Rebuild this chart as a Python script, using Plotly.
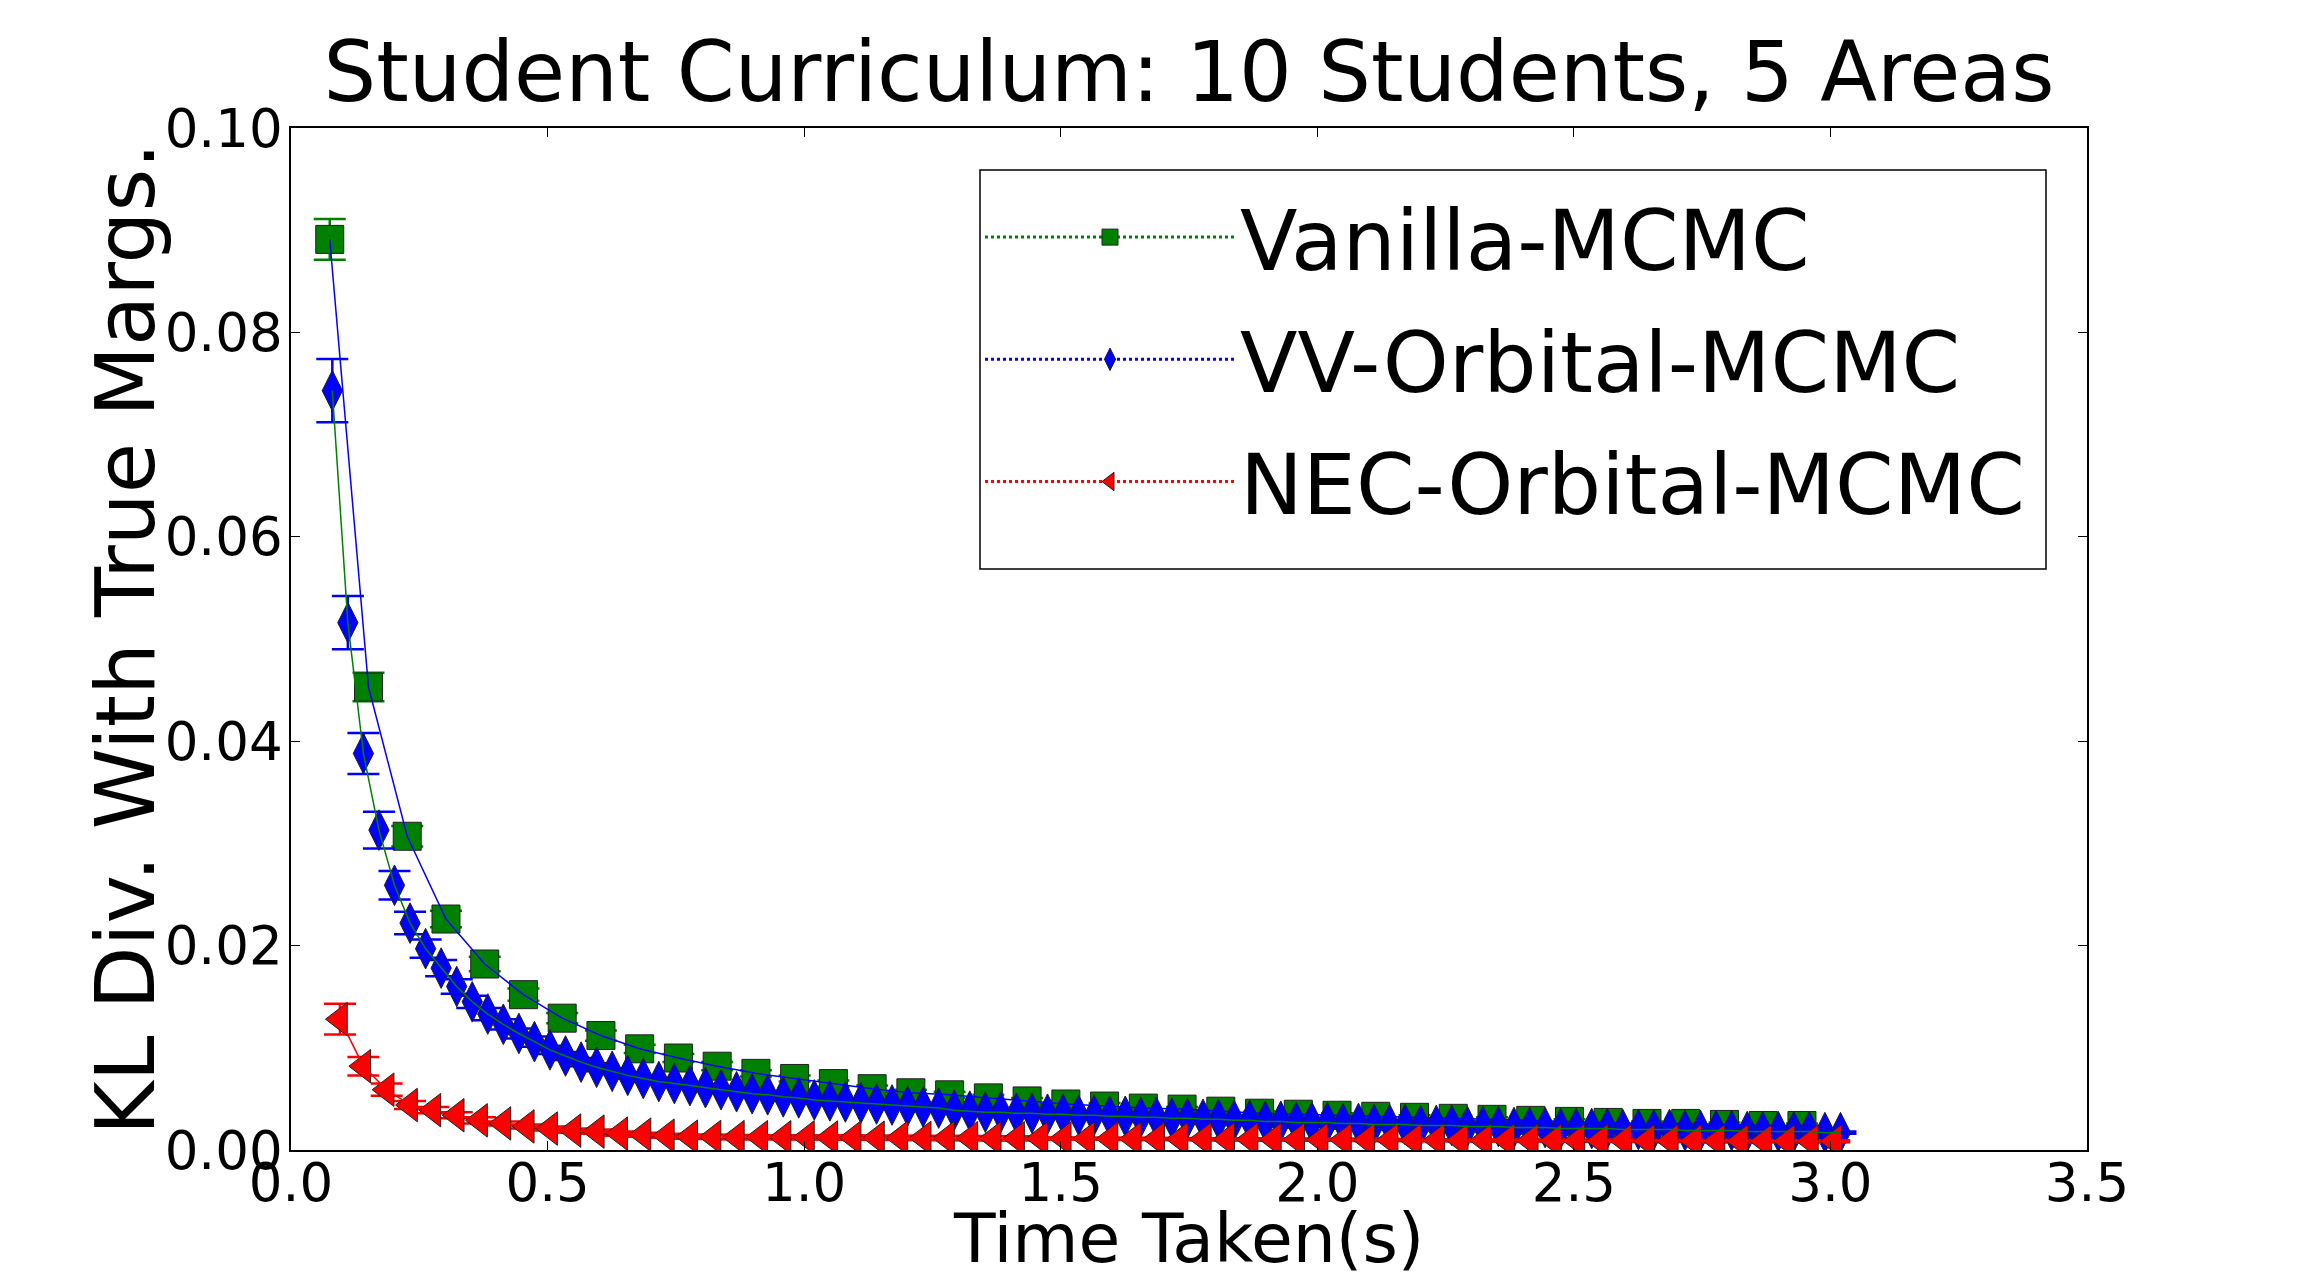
import plotly.graph_objects as go

# KL divergence vs time
vanilla_t = [0.0755, 0.151, 0.2265, 0.302, 0.3775, 0.453, 0.5285, 0.604, 0.6795, 0.755,
             0.8305, 0.906, 0.9815, 1.057, 1.1325, 1.208, 1.2835, 1.359, 1.4345, 1.51,
             1.5855, 1.661, 1.7365, 1.812, 1.8875, 1.963, 2.0385, 2.114, 2.1895, 2.265,
             2.3405, 2.416, 2.4915, 2.567, 2.6425, 2.718, 2.7935, 2.869, 2.9445]
vanilla_kl = [0.0891, 0.0453, 0.0307, 0.0226, 0.0182, 0.0152, 0.0129, 0.0112, 0.0099, 0.0090,
              0.0082, 0.0075, 0.0070, 0.0065, 0.0060, 0.0056, 0.0054, 0.0051, 0.0048, 0.0045,
              0.0043, 0.0041, 0.0040, 0.0038, 0.0036, 0.0035, 0.0034, 0.0033, 0.0032, 0.0031,
              0.0030, 0.0029, 0.0028, 0.0027, 0.0026, 0.0026, 0.0025, 0.0024, 0.0024]
vanilla_err = [0.0020, 0.0014, 0.0010, 0.0008, 0.0007, 0.0006, 0.0005, 0.0005, 0.0004, 0.0004,
               0.0004, 0.0003, 0.0003, 0.0003, 0.0003, 0.0003, 0.0003, 0.0003, 0.0003, 0.0003,
               0.0003, 0.0003, 0.0002, 0.0002, 0.0002, 0.0002, 0.0002, 0.0002, 0.0002, 0.0002,
               0.0002, 0.0002, 0.0002, 0.0002, 0.0002, 0.0002, 0.0002, 0.0002, 0.0002]

vv_t = [0.0805, 0.1108, 0.1411, 0.1714, 0.2017, 0.232, 0.2623, 0.2926, 0.3229, 0.3532,
        0.3835, 0.4138, 0.4441, 0.4744, 0.5047, 0.535, 0.5653, 0.5956, 0.6259, 0.6562,
        0.6865, 0.7168, 0.7471, 0.7774, 0.8077, 0.838, 0.8683, 0.8986, 0.9289, 0.9592,
        0.9895, 1.0198, 1.0501, 1.0804, 1.1107, 1.141, 1.1713, 1.2016, 1.2319, 1.2622,
        1.2925, 1.3228, 1.3531, 1.3834, 1.4137, 1.444, 1.4743, 1.5046, 1.5349, 1.5652,
        1.5955, 1.6258, 1.6561, 1.6864, 1.7167, 1.747, 1.7773, 1.8076, 1.8379, 1.8682,
        1.8985, 1.9288, 1.9591, 1.9894, 2.0197, 2.05, 2.0803, 2.1106, 2.1409, 2.1712,
        2.2015, 2.2318, 2.2621, 2.2924, 2.3227, 2.353, 2.3833, 2.4136, 2.4439, 2.4742,
        2.5045, 2.5348, 2.5651, 2.5954, 2.6257, 2.656, 2.6863, 2.7166, 2.7469, 2.7772,
        2.8075, 2.8378, 2.8681, 2.8984, 2.9287, 2.959, 2.9893, 3.0196]
vv_kl = [0.0743, 0.0516, 0.0388, 0.0313, 0.0259, 0.0222, 0.0197, 0.0178, 0.0160, 0.0145,
         0.0133, 0.0123, 0.0114, 0.0106, 0.0098, 0.0092, 0.0086, 0.0081, 0.0077, 0.0073,
         0.0070, 0.0067, 0.0065, 0.0063, 0.0061, 0.0059, 0.0057, 0.0055, 0.0054, 0.0052,
         0.0051, 0.0049, 0.0048, 0.0047, 0.0046, 0.0045, 0.0044, 0.0043, 0.0042, 0.0041,
         0.0039, 0.0038, 0.0037, 0.0037, 0.0036, 0.0036, 0.0035, 0.0035, 0.0034, 0.0034,
         0.0033, 0.0033, 0.0032, 0.0032, 0.0031, 0.0031, 0.0030, 0.0030, 0.0029, 0.0029,
         0.0028, 0.0028, 0.0027, 0.0027, 0.0027, 0.0026, 0.0026, 0.0025, 0.0025, 0.0025,
         0.0024, 0.0024, 0.0024, 0.0023, 0.0023, 0.0023, 0.0022, 0.0022, 0.0022, 0.0021,
         0.0021, 0.0021, 0.0021, 0.0020, 0.0020, 0.0020, 0.0020, 0.0019, 0.0019, 0.0019,
         0.0019, 0.0018, 0.0018, 0.0018, 0.0018, 0.0018, 0.0017, 0.0017]
vv_err = [0.0031, 0.0026, 0.0020, 0.0018, 0.0014, 0.0011, 0.0009, 0.0008, 0.0007, 0.0006,
          0.0006, 0.0005, 0.0005, 0.0005, 0.0004, 0.0004, 0.0004, 0.0004, 0.0003, 0.0003,
          0.0003, 0.0003, 0.0003, 0.0003, 0.0003, 0.0003, 0.0003, 0.0003, 0.0003, 0.0003,
          0.0002, 0.0002, 0.0002, 0.0002, 0.0002, 0.0002, 0.0002, 0.0002, 0.0002, 0.0002,
          0.0002, 0.0002, 0.0002, 0.0002, 0.0002, 0.0002, 0.0002, 0.0002, 0.0002, 0.0002,
          0.0002, 0.0002, 0.0002, 0.0002, 0.0002, 0.0002, 0.0002, 0.0002, 0.0002, 0.0002,
          0.0002, 0.0002, 0.0002, 0.0002, 0.0002, 0.0002, 0.0002, 0.0002, 0.0002, 0.0002,
          0.0001, 0.0001, 0.0001, 0.0001, 0.0001, 0.0001, 0.0001, 0.0001, 0.0001, 0.0001,
          0.0001, 0.0001, 0.0001, 0.0001, 0.0001, 0.0001, 0.0001, 0.0001, 0.0001, 0.0001,
          0.0001, 0.0001, 0.0001, 0.0001, 0.0001, 0.0001, 0.0001, 0.0001]

nec_t = [0.0955, 0.141, 0.1865, 0.232, 0.2775, 0.323, 0.3685, 0.414, 0.4595, 0.505,
         0.5505, 0.596, 0.6415, 0.687, 0.7325, 0.778, 0.8235, 0.869, 0.9145, 0.96,
         1.0055, 1.051, 1.0965, 1.142, 1.1875, 1.233, 1.2785, 1.324, 1.3695, 1.415,
         1.4605, 1.506, 1.5515, 1.597, 1.6425, 1.688, 1.7335, 1.779, 1.8245, 1.87,
         1.9155, 1.961, 2.0065, 2.052, 2.0975, 2.143, 2.1885, 2.234, 2.2795, 2.325,
         2.3705, 2.416, 2.4615, 2.507, 2.5525, 2.598, 2.6435, 2.689, 2.7345, 2.78,
         2.8255, 2.871, 2.9165, 2.962, 3.0075]
nec_kl = [0.0128, 0.0082, 0.0059, 0.0044, 0.0039, 0.0034, 0.0029, 0.0026, 0.0023, 0.0021,
          0.0019, 0.0018, 0.0016, 0.0015, 0.0014, 0.0013, 0.00128, 0.00126, 0.00125, 0.00124,
          0.00123, 0.00122, 0.00121, 0.0012, 0.00119, 0.00118, 0.00117, 0.00116, 0.00115, 0.00114,
          0.00113, 0.00112, 0.00111, 0.0011, 0.00109, 0.00108, 0.00107, 0.00106, 0.00105, 0.00104,
          0.00103, 0.00102, 0.00101, 0.001, 0.00099, 0.00098, 0.00097, 0.00096, 0.00095, 0.00094,
          0.00093, 0.00092, 0.00092, 0.00091, 0.0009, 0.0009, 0.00089, 0.00088, 0.00088, 0.00087,
          0.00087, 0.00086, 0.00086, 0.00085, 0.00085]
nec_err = [0.0015, 0.0009, 0.0006, 0.0004, 0.0003, 0.0003, 0.0003, 0.0002, 0.0002, 0.0002,
           0.0002, 0.0002, 0.0002, 0.0002, 0.0002, 0.0002, 0.0002, 0.0002, 0.0002, 0.0002,
           0.0002, 0.0002, 0.0002, 0.0002, 0.0002, 0.0002, 0.0002, 0.0002, 0.0002, 0.0002,
           0.0001, 0.0001, 0.0001, 0.0001, 0.0001, 0.0001, 0.0001, 0.0001, 0.0001, 0.0001,
           0.0001, 0.0001, 0.0001, 0.0001, 0.0001, 0.0001, 0.0001, 0.0001, 0.0001, 0.0001,
           0.0001, 0.0001, 0.0001, 0.0001, 0.0001, 0.0001, 0.0001, 0.0001, 0.0001, 0.0001,
           0.0001, 0.0001, 0.0001, 0.0001, 0.0001]

FONT = "DejaVu Sans"
W, H = 2318, 1277
L, R, T, B = 291, 231, 128, 127  # plot area edges in px

# (name, times, kl, err, marker colour, symbol, size, line colour)
series = [
    ("Vanilla-MCMC", vanilla_t, vanilla_kl, vanilla_err, "#008000", "square", 28, "#0000ff"),
    ("VV-Orbital-MCMC", vv_t, vv_kl, vv_err, "#0000ff", "diamond-tall", 29, "#008000"),
    ("NEC-Orbital-MCMC", nec_t, nec_kl, nec_err, "#ff0000", "triangle-left", 29, "#ff0000"),
]

fig = go.Figure()

# markers + error bars
for name, t, kl, err, col, sym, size, lcol in series:
    fig.add_trace(go.Scatter(
        x=t, y=kl, mode="markers", showlegend=False,
        marker=dict(symbol=sym, size=size, color=col, line=dict(color="#202020", width=1)),
        error_y=dict(type="data", array=err, color=col, thickness=2.5, width=16),
    ))

# thin lines drawn over the markers (colour cycle b, g, r like the original)
for name, t, kl, err, col, sym, size, lcol in series:
    fig.add_trace(go.Scatter(
        x=t, y=kl, mode="lines", showlegend=False,
        line=dict(color=lcol, width=1.5),
    ))

# legend entries only
for name, t, kl, err, col, sym, size, lcol in series:
    fig.add_trace(go.Scatter(
        x=[None], y=[None], mode="lines+markers", name=name, legendgroup=name,
        marker=dict(symbol=sym, size=size, color=col, line=dict(color="#202020", width=1)),
        line=dict(color=col, width=3, dash="dot"),
    ))

pw = W - L - R
ph = H - T - B

def px_x(p):
    return (p - L) / pw

def px_y(p):
    return (H - B - p) / ph

axis_common = dict(
    showgrid=False, zeroline=False, showline=True, linecolor="black", linewidth=1.5,
    mirror="ticks", ticks="inside", ticklen=9, tickwidth=1.2, tickcolor="black",
    tickfont=dict(family=FONT, size=53, color="black"), automargin=False,
)

fig.update_layout(
    width=W, height=H,
    margin=dict(l=L, r=R, t=T, b=B),
    paper_bgcolor="white", plot_bgcolor="white",
    title=dict(text="Student Curriculum: 10 Students, 5 Areas",
               font=dict(family=FONT, size=83, color="black"),
               x=0.5 * (L + W - R) / W, xanchor="center", y=1 - 72 / H, yanchor="middle"),
    xaxis=dict(range=[0, 3.5], dtick=0.5, tickformat=".1f", ticklabelstandoff=-14,
               **axis_common),
    yaxis=dict(range=[0, 0.1], dtick=0.02, tickformat=".2f", ticklabelstandoff=-4,
               **axis_common),
    annotations=[
        dict(text="Time Taken(s)", xref="paper", yref="paper",
             x=px_x(1188), y=px_y(1238), xanchor="center", yanchor="middle",
             showarrow=False, font=dict(family=FONT, size=68, color="black")),
        dict(text="KL Div. With True Margs.", xref="paper", yref="paper", textangle=-90,
             x=px_x(125), y=px_y(639), xanchor="center", yanchor="middle",
             showarrow=False, font=dict(family=FONT, size=82, color="black")),
    ],
    legend=dict(x=px_x(980), xanchor="left", y=px_y(176), yanchor="top",
                bgcolor="rgba(0,0,0,0)", borderwidth=0, itemwidth=250,
                tracegroupgap=10, font=dict(family=FONT, size=84, color="black")),
    shapes=[dict(type="rect", xref="paper", yref="paper",
                 x0=px_x(980), x1=px_x(2046), y0=px_y(569), y1=px_y(170),
                 line=dict(color="black", width=1.5), fillcolor="white", layer="below")],
)

fig.write_html("out.html", config={"displayModeBar": False},
               post_script="document.body.style.margin='0';")
